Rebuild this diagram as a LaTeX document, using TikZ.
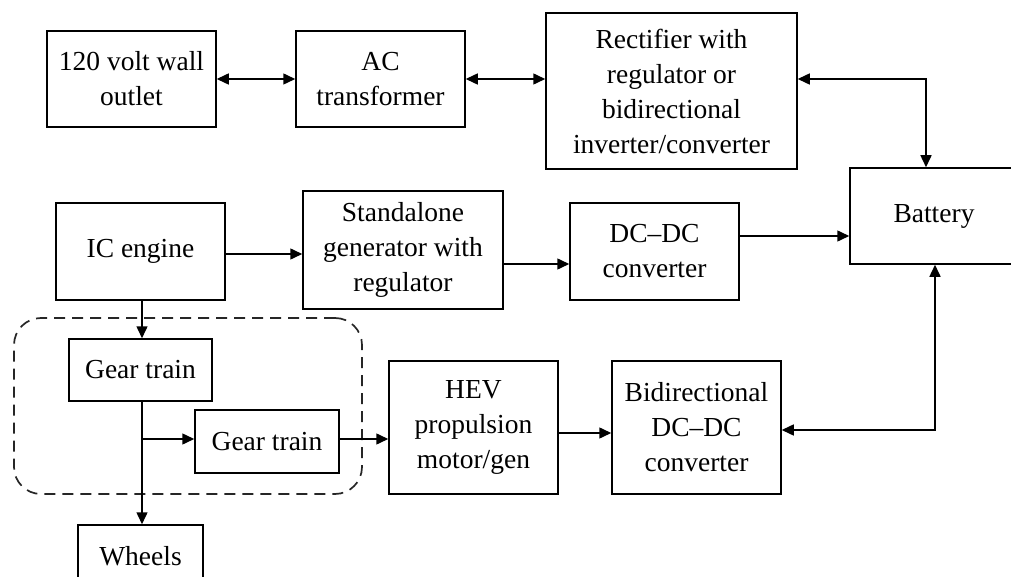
\documentclass[tikz,border=0pt]{standalone}
\usepackage{fontspec}
\setmainfont{Liberation Serif}
\usetikzlibrary{arrows.meta}
\begin{document}
\begin{tikzpicture}[x=1pt,y=-1pt,
  blk/.style={draw, line width=1.5pt, inner sep=0pt, align=center,
    font=\fontsize{27.5}{35}\selectfont},
  tip/.style={Triangle[length=12pt,width=11pt]},
  conn/.style={line width=1.5pt, -{Triangle[length=12pt,width=11pt]}},
  biconn/.style={line width=1.5pt, {Triangle[length=12pt,width=11pt]}-{Triangle[length=12pt,width=11pt]}},
  grp/.style={draw, line width=1.7pt, dash pattern=on 11pt off 7pt, rounded corners=27pt,
    inner sep=0pt, color=black!85}]
\useasboundingbox (0,0) rectangle (1011,577);
\clip (0,0) rectangle (1011,577);

% drivetrain group
\node[grp, minimum width=348pt, minimum height=176pt] (drivetrain) at (188,406) {};

% blocks
\node[blk, minimum width=169pt, minimum height=96pt] (outlet) at (131.5,79) {120 volt wall\\outlet};
\node[blk, minimum width=169pt, minimum height=96pt] (ac) at (380.5,79) {AC\\transformer};
\node[blk, minimum width=251pt, minimum height=156pt] (rect) at (671.5,91) {Rectifier with\\regulator or\\bidirectional\\inverter/converter};
\node[blk, minimum width=168pt, minimum height=96pt] (battery) at (934,216) {Battery};
\node[blk, minimum width=169pt, minimum height=97pt] (icengine) at (140.5,251.5) {IC engine};
\node[blk, minimum width=200pt, minimum height=118pt] (standalone) at (403,250) {Standalone\\generator with\\regulator};
\node[blk, minimum width=169pt, minimum height=97pt] (dcdc) at (654.5,251.5) {DC--DC\\converter};
\node[blk, minimum width=143pt, minimum height=62pt] (gear1) at (140.5,370) {Gear train};
\node[blk, minimum width=144pt, minimum height=63pt] (gear2) at (267,441.5) {Gear train};
\node[blk, minimum width=169pt, minimum height=133pt] (hev) at (473.5,427.5) {HEV\\propulsion\\motor/gen};
\node[blk, minimum width=169pt, minimum height=133pt] (bidir) at (696.5,427.5) {Bidirectional\\DC--DC\\converter};
\node[blk, minimum width=125pt, minimum height=62pt] (wheels) at (140.5,556) {Wheels};

% connectors
\draw[biconn] (outlet.east) -- (ac.west);
\draw[biconn] (ac.east) -- (rect.west |- ac.east);
\draw[biconn] (rect.east |- ac.east) -| (battery.north -| 926,0);
\draw[conn] (icengine.east |- 0,254) -- (standalone.west |- 0,254);
\draw[conn] (standalone.east |- 0,264) -- (dcdc.west |- 0,264);
\draw[conn] (dcdc.east |- 0,236) -- (battery.west |- 0,236);
\draw[biconn] (battery.south -| 935,0) |- (bidir.east |- 0,430);
\draw[conn] (hev.east |- 0,433) -- (bidir.west |- 0,433);
\draw[conn] (gear2.east |- 0,439) -- (hev.west |- 0,439);
\draw[conn] (icengine.south -| 142,0) -- (gear1.north -| 142,0);
\draw[conn] (gear1.south -| 142,0) -- (wheels.north -| 142,0);
\coordinate (split) at (142,439);
\draw[conn] (split) -- (gear2.west |- split);
\end{tikzpicture}
\end{document}
